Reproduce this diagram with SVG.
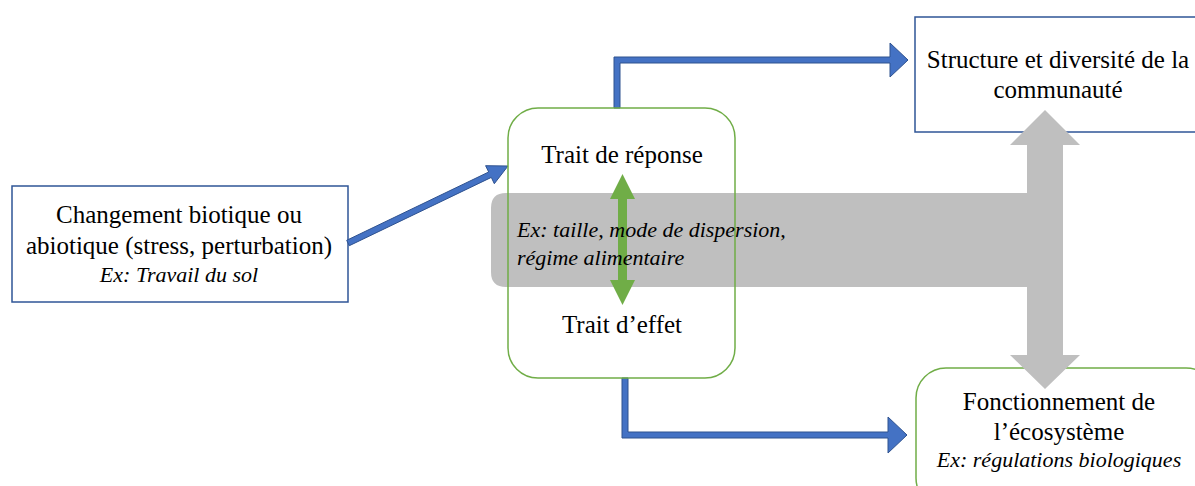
<svg xmlns="http://www.w3.org/2000/svg" width="1195" height="486" viewBox="0 0 1195 486">
<style>
.t{font-family:"Liberation Serif","Times New Roman",serif;font-size:25px;fill:#000;text-anchor:middle}
.i{font-family:"Liberation Serif","Times New Roman",serif;font-size:22px;font-style:italic;fill:#000;text-anchor:middle}
.bluebox{fill:#fff;stroke:#2F5597;stroke-width:1.5}
.greenbox{fill:none;stroke:#70AD47;stroke-width:1.5}
.barrow{fill:#4472C4;stroke:#2F528F;stroke-width:1}
</style>
<rect width="1195" height="486" fill="#fff"/>
<g id="node-change">
<rect class="bluebox" x="12" y="186" width="336" height="116"/>
<text class="t" x="179" y="223">Changement biotique ou</text>
<text class="t" x="179" y="254">abiotique (stress, perturbation)</text>
<text class="i" x="179" y="282">Ex: Travail du sol</text>
</g>
<g id="node-structure">
<rect class="bluebox" x="915" y="17" width="300" height="115"/>
<text class="t" x="1058" y="68">Structure et diversité de la</text>
<text class="t" x="1058" y="98">communauté</text>
</g>
<g id="node-fonctionnement">
<rect x="916" y="368" width="300" height="140" rx="30" fill="#fff" stroke="#70AD47" stroke-width="1.5"/>
<text class="t" x="1059" y="410">Fonctionnement de</text>
<text class="t" x="1059" y="440">l’écosystème</text>
<text class="i" x="1059" y="467">Ex: régulations biologiques</text>
</g>
<g id="node-traits-bg">
<rect x="508" y="108" width="227" height="270" rx="30" fill="#fff"/>
</g>
<g id="connectors">
<path id="gray-band" fill="#BFBFBF" d="M506,193 H1027 V145 H1010 L1045,110 L1080,145 H1063 V355 H1080 L1045,389 L1010,355 H1027 V287 H506 Q491,287 491,272 V208 Q491,193 506,193 Z"/>
<polygon class="barrow" points="346.7,240.3 488.7,172 485.6,165.7 508,166 494.3,183.7 491.3,177.4 349.3,245.7"/>
<polygon class="barrow" points="614,108 614,57 890,57 890,43 908,60 890,77 890,63 620,63 620,108"/>
<polygon class="barrow" points="622,378 622,438 888,438 888,453 907,435 888,417 888,432 628,432 628,378"/>
</g>
<g id="node-traits">
<rect class="greenbox" x="508" y="108" width="227" height="270" rx="30"/>
<polygon id="green-arrow" fill="#70AD47" points="622.5,174 635,199 627,199 627,280 635,280 622.5,305 610,280 618,280 618,199 610,199"/>
<text class="t" x="622" y="163">Trait de réponse</text>
<text class="t" x="622" y="333">Trait d’effet</text>
<text class="i" x="517" y="237" style="text-anchor:start">Ex: taille, mode de dispersion,</text>
<text class="i" x="517" y="265" style="text-anchor:start">régime alimentaire</text>
</g>
</svg>
